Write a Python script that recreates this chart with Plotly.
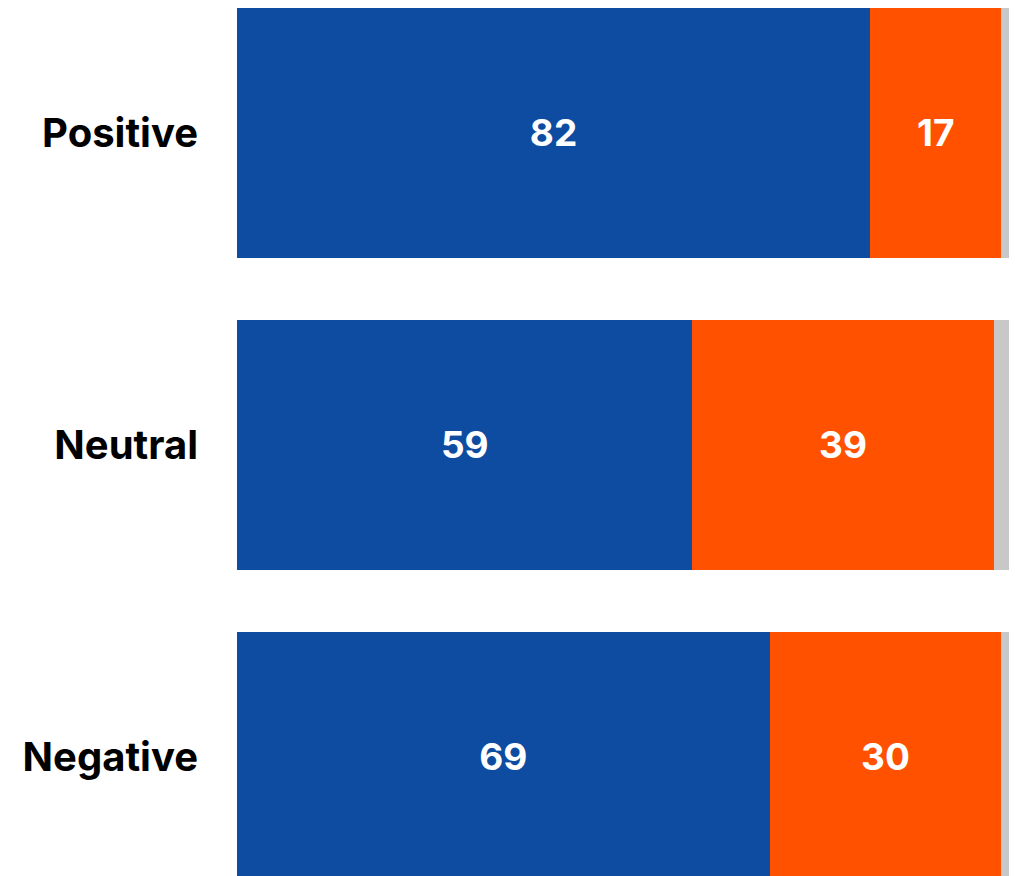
import plotly.graph_objects as go

categories = ["Positive", "Neutral", "Negative"]
blue_vals = [82, 59, 69]
orange_vals = [17, 39, 30]
gray_vals = [1, 2, 1]

FONT = "Inter"

fig = go.Figure()
fig.add_trace(go.Bar(
    y=categories, x=blue_vals, orientation="h",
    marker=dict(color="#0E4CA1", line=dict(width=0)),
    text=[str(v) for v in blue_vals], textposition="inside",
    insidetextanchor="middle",
    textfont=dict(color="white", size=37, family=FONT, weight="bold"),
    hoverinfo="skip",
))
fig.add_trace(go.Bar(
    y=categories, x=orange_vals, orientation="h",
    marker=dict(color="#FF5100", line=dict(width=0)),
    text=[str(v) for v in orange_vals], textposition="inside",
    insidetextanchor="middle",
    textfont=dict(color="white", size=37, family=FONT, weight="bold"),
    hoverinfo="skip",
))
fig.add_trace(go.Bar(
    y=categories, x=gray_vals, orientation="h",
    marker=dict(color="#C8C8C8", line=dict(width=0)),
    textposition="none",
    hoverinfo="skip",
))

fig.update_layout(
    barmode="stack",
    bargap=0.2,
    width=1017, height=876,
    margin=dict(l=237, r=8, t=0, b=0),
    plot_bgcolor="white", paper_bgcolor="white",
    showlegend=False,
    uniformtext=dict(mode=False),
    xaxis=dict(range=[0, 100], visible=False, fixedrange=True),
    yaxis=dict(
        type="category",
        range=[2.382, -0.4256],
        showgrid=False, zeroline=False, showline=False,
        ticks="", ticklabelstandoff=38,
        tickfont=dict(family=FONT, size=40, color="black", weight="bold"),
    ),
)

fig.write_html(
    "out.html",
    config={"displayModeBar": False},
    post_script="document.body.style.margin='0';document.body.style.overflow='hidden';",
)
